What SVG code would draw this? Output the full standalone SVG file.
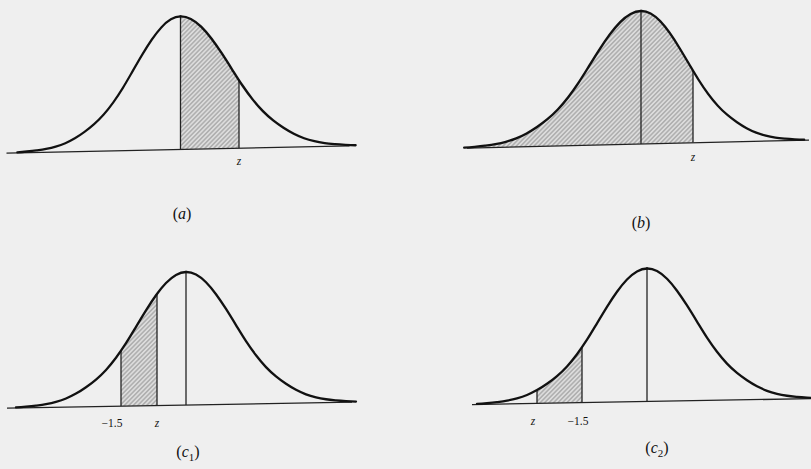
<svg xmlns="http://www.w3.org/2000/svg" xmlns:xlink="http://www.w3.org/1999/xlink" width="811" height="469" viewBox="0 0 811 469">
<style>
.bg{fill:#efefef}
.curve{fill:none;stroke:#111;stroke-width:2.3;stroke-linejoin:round;stroke-linecap:round}
.base{stroke:#222;stroke-width:1.3;fill:none}
.vline{stroke:#222;stroke-width:1.3}
.hatch{fill:url(#hatch)}
.lbl{font-family:"Liberation Serif","Times New Roman",serif;fill:#111}
.cap{font-size:16px}
.small{font-size:11.5px}
.it{font-style:italic}
</style>
<defs>
<pattern id="hatch" patternUnits="userSpaceOnUse" width="3.2" height="3.2" patternTransform="rotate(45)">
<rect width="3.2" height="3.2" fill="#dcdcdc"/>
<line x1="0.8" y1="0" x2="0.8" y2="3.2" stroke="#9c9c9c" stroke-width="1.1"/>
</pattern>
<path id="half" d="M 0,-133 C 3.33,-133 6.67,-132.07 10,-130.26 C 13.33,-128.45 16.67,-125.77 20,-122.37 C 23.33,-118.97 26.67,-114.86 30,-110.27 C 33.33,-105.68 36.67,-100.60 40,-95.31 C 43.33,-90.02 46.67,-84.52 50,-79.03 C 53.33,-73.54 56.67,-67.93 60,-62.84 C 63.33,-57.75 66.67,-52.89 70,-48.5 C 73.33,-44.11 76.67,-40.08 80,-36.5 C 83.33,-32.92 86.67,-29.83 90,-27 C 93.33,-24.17 96.67,-21.78 100,-19.5 C 103.33,-17.22 106.67,-15.12 110,-13.3 C 113.33,-11.48 116.67,-9.92 120,-8.6 C 123.33,-7.28 126.67,-6.28 130,-5.4 C 133.33,-4.52 136.67,-3.87 140,-3.3 C 143.33,-2.73 146.67,-2.37 150,-2.0 C 153.33,-1.63 156.67,-1.35 160,-1.1 C 163.33,-0.85 166.67,-0.65 170,-0.5"/>
<path id="halfArea" d="M 0,0 L 0,-133 C 3.33,-133 6.67,-132.07 10,-130.26 C 13.33,-128.45 16.67,-125.77 20,-122.37 C 23.33,-118.97 26.67,-114.86 30,-110.27 C 33.33,-105.68 36.67,-100.60 40,-95.31 C 43.33,-90.02 46.67,-84.52 50,-79.03 C 53.33,-73.54 56.67,-67.93 60,-62.84 C 63.33,-57.75 66.67,-52.89 70,-48.5 C 73.33,-44.11 76.67,-40.08 80,-36.5 C 83.33,-32.92 86.67,-29.83 90,-27 C 93.33,-24.17 96.67,-21.78 100,-19.5 C 103.33,-17.22 106.67,-15.12 110,-13.3 C 113.33,-11.48 116.67,-9.92 120,-8.6 C 123.33,-7.28 126.67,-6.28 130,-5.4 C 133.33,-4.52 136.67,-3.87 140,-3.3 C 143.33,-2.73 146.67,-2.37 150,-2.0 C 153.33,-1.63 156.67,-1.35 160,-1.1 C 163.33,-0.85 166.67,-0.65 170,-0.5 L 170,0 Z"/>
<clipPath id="under-a">
<use href="#halfArea" transform="scale(-0.96,1)"/>
<use href="#halfArea" transform="scale(1.03,1)"/>
</clipPath>
<clipPath id="under-b">
<use href="#halfArea" transform="scale(-1.04,1)"/>
<use href="#halfArea" transform="scale(0.96,1)"/>
</clipPath>
<clipPath id="under-c">
<use href="#halfArea" transform="scale(-1,1)"/>
<use href="#halfArea"/>
</clipPath>
</defs>
<rect class="bg" x="0" y="0" width="811" height="469"/>

<g id="panel-a">
<g transform="translate(180.5,149.4) skewY(-1.2)">
<rect class="hatch" x="0" y="-140" width="58.5" height="140" clip-path="url(#under-a)"/>
<g clip-path="url(#under-a)">
<line class="vline" x1="0" y1="0" x2="0" y2="-140"/>
<line class="vline" x1="58.5" y1="0" x2="58.5" y2="-140"/>
</g>
<line class="base" x1="-174" y1="0" x2="169" y2="0"/>
<use href="#half" class="curve" transform="scale(-0.96,1)"/>
<use href="#half" class="curve" transform="scale(1.03,1)"/>
</g>
<text class="lbl small it" x="239" y="165" text-anchor="middle">z</text>
<text class="lbl cap" x="182" y="219" text-anchor="middle">(<tspan class="it">a</tspan>)</text>
</g>

<g id="panel-b">
<g transform="translate(641,144) skewY(-1.35)">
<rect class="hatch" x="-180" y="-140" width="232" height="140" clip-path="url(#under-b)"/>
<g clip-path="url(#under-b)">
<line class="vline" x1="0" y1="0" x2="0" y2="-140"/>
<line class="vline" x1="52" y1="0" x2="52" y2="-140"/>
</g>
<line class="base" x1="-174" y1="0" x2="168" y2="0"/>
<use href="#half" class="curve" transform="scale(-1.04,1)"/>
<use href="#half" class="curve" transform="scale(0.96,1)"/>
</g>
<text class="lbl small it" x="693" y="161" text-anchor="middle">z</text>
<text class="lbl cap" x="641" y="228" text-anchor="middle">(<tspan class="it">b</tspan>)</text>
</g>

<g id="panel-c1">
<g transform="translate(186,405) skewY(-1)">
<rect class="hatch" x="-65" y="-140" width="36" height="140" clip-path="url(#under-c)"/>
<g clip-path="url(#under-c)">
<line class="vline" x1="0" y1="0" x2="0" y2="-140"/>
<line class="vline" x1="-65" y1="0" x2="-65" y2="-140"/>
<line class="vline" x1="-29" y1="0" x2="-29" y2="-140"/>
</g>
<line class="base" x1="-179" y1="0" x2="166" y2="0"/>
<use href="#half" class="curve" transform="scale(-1,1)"/>
<use href="#half" class="curve"/>
</g>
<text class="lbl small" x="112" y="427" text-anchor="middle">−1.5</text>
<text class="lbl small it" x="157" y="427" text-anchor="middle">z</text>
<text class="lbl cap" x="188" y="457" text-anchor="middle">(<tspan class="it">c</tspan><tspan font-size="11" dy="4">1</tspan><tspan dy="-4">)</tspan></text>
</g>

<g id="panel-c2">
<g transform="translate(647,401.5) skewY(-1)">
<rect class="hatch" x="-110" y="-140" width="45" height="140" clip-path="url(#under-c)"/>
<g clip-path="url(#under-c)">
<line class="vline" x1="0" y1="0" x2="0" y2="-140"/>
<line class="vline" x1="-110" y1="0" x2="-110" y2="-140"/>
<line class="vline" x1="-65" y1="0" x2="-65" y2="-140"/>
</g>
<line class="base" x1="-175" y1="0" x2="166" y2="0"/>
<use href="#half" class="curve" transform="scale(-1,1)"/>
<use href="#half" class="curve"/>
</g>
<text class="lbl small it" x="533" y="425" text-anchor="middle">z</text>
<text class="lbl small" x="578" y="425" text-anchor="middle">−1.5</text>
<text class="lbl cap" x="657" y="453" text-anchor="middle">(<tspan class="it">c</tspan><tspan font-size="11" dy="4">2</tspan><tspan dy="-4">)</tspan></text>
</g>
</svg>
